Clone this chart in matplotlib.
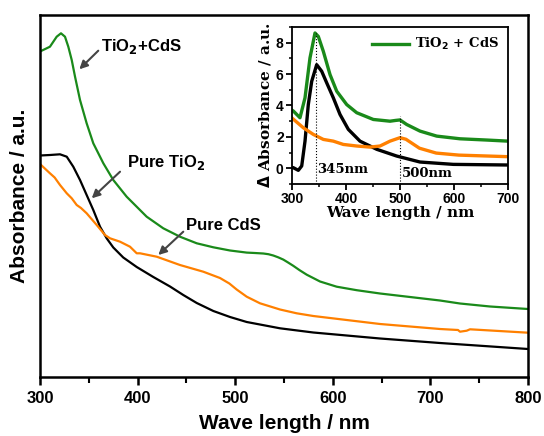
import matplotlib.pyplot as plt
from matplotlib.ticker import MultipleLocator

plt.rcParams['font.family'] = 'Liberation Sans'
plt.rcParams['font.weight'] = 'bold'

# main spectra (arbitrary absorbance units)
wl_green = [300, 310.2, 317.1, 321.5, 325.6, 329.0, 332.5, 335.9, 341.0, 347.8, 354.6, 364.9, 375.1,
            388.8, 409.3, 426.3, 443.4, 460.6, 477.6, 494.7, 511.8, 520, 528.8, 534, 539.0, 544, 549.3,
            554, 559.5, 566, 573.3, 586.9, 604.0, 624.5, 648.4, 679.1, 709.8, 730.3, 761.1, 800]
abs_green = [325.5, 330.3, 340.3, 343.7, 340.3, 330.3, 317, 300.3, 277, 253.7, 233.7, 213.7, 197,
             180.3, 160.3, 148.7, 140.3, 133.7, 129.7, 126.5, 124.4, 124, 123.5, 122.8, 121.5, 119.7, 117.4,
             114.6, 111.2, 106.8, 102.3, 95.5, 90.3, 86.8, 83.5, 80, 76.5, 73.5, 70.5, 68]

wl_black = [300, 310.2, 320.5, 327.4, 334.1, 341.0, 347.8, 354.6, 361.5, 368.3, 375.1, 385.3, 399.1,
            416.1, 433.2, 446.8, 460.6, 477.6, 494.7, 511.8, 545.9, 580.0, 614.2, 648.4, 709.8, 800]
abs_black = [221.5, 222, 222.7, 220.3, 210.3, 197, 182, 167, 150.3, 138.7, 129.5, 119.5, 110,
             100, 90.5, 82, 74, 66, 60, 55, 48.7, 44.5, 41.5, 38.5, 34, 28]

wl_orange = [300, 310.2, 315, 320.5, 327.4, 332.5, 337.6, 342, 347.8, 358.1, 366.6, 371.7, 382.0, 392.2,
             399.1, 402.5, 419.6, 443.4, 467.3, 484.4, 494, 501.5, 511.8, 525.4, 545.9, 563.0, 580.0,
             614.2, 648.4, 709.8, 728.3, 730.3, 737.2, 740.6, 800]
abs_orange = [213, 203.7, 199.5, 192, 183.7, 178.7, 172, 169, 163.7, 152, 142, 138.7, 135.3, 130.3,
              123.7, 123.7, 120.3, 112, 105.3, 99, 93.5, 87.5, 80.3, 73.7, 67.5, 63.7, 61,
              57, 53, 48, 47, 45.3, 46.3, 47.7, 44.3]

# inset: difference spectra
iwl_green = [300, 302.4, 314.8, 324.1, 333.3, 342.6, 348.7, 358.0, 370.4, 382.8, 401.3, 419.8, 450.6,
             481.5, 492, 500, 512.4, 537, 568, 611, 660.6, 700]
id_green = [3.7, 3.65, 3.22, 4.49, 7.03, 8.62, 8.40, 7.45, 5.97, 4.91, 4.06, 3.54, 3.11,
            3.0, 3.05, 3.08, 2.79, 2.37, 2.05, 1.88, 1.8, 1.73]

iwl_black = [300, 302.4, 311.7, 318, 324.1, 330.2, 336.5, 345.7, 355, 364.3, 376.5, 388.9, 404.3,
             425.9, 456.9, 493.9, 537, 598.7, 700]
id_black = [0.05, 0.04, -0.13, 0.15, 1.73, 4.06, 5.54, 6.6, 6.18, 5.44, 4.49, 3.43, 2.48,
            1.73, 1.21, 0.78, 0.40, 0.25, 0.21]

iwl_orange = [300, 321, 339.4, 358, 376.5, 395, 419.8, 444.4, 463, 481.5, 500, 511, 536, 567, 609, 700]
id_orange = [3.2, 2.58, 2.16, 1.84, 1.73, 1.52, 1.42, 1.35, 1.42, 1.73, 1.95, 1.85, 1.28, 0.97, 0.84, 0.74]

GREEN = '#1a8a1a'
ORANGE = '#ff8000'

fig = plt.figure(figsize=(5.44, 4.36), dpi=100)
ax = fig.add_axes([40 / 544, 1 - 377 / 436, 488 / 544, 362 / 436])

ax.plot(wl_green, abs_green, color=GREEN, lw=1.6)
ax.plot(wl_black, abs_black, color='black', lw=1.6)
ax.plot(wl_orange, abs_orange, color=ORANGE, lw=1.6)

ax.set_xlim(300, 800)
ax.set_ylim(0, 362)
ax.set_yticks([])
ax.xaxis.set_major_locator(MultipleLocator(100))
ax.xaxis.set_minor_locator(MultipleLocator(50))
ax.tick_params(axis='x', which='major', direction='out', length=6, width=1.8, labelsize=12, pad=4)
ax.tick_params(axis='x', which='minor', direction='out', length=4, width=1.5)
for s in ax.spines.values():
    s.set_linewidth(1.8)
ax.set_xlabel('Wave length / nm', fontsize=15, fontweight='bold', labelpad=6)
ax.set_ylabel('Absorbance / a.u.', fontsize=15, fontweight='bold', labelpad=8)

arrow = dict(arrowstyle='-|>', color='#444444', lw=1.5, mutation_scale=12, shrinkA=0, shrinkB=0)
ax.annotate('', xy=(340.3, 307.7), xytext=(359.7, 326.3), arrowprops=arrow)
ax.annotate('', xy=(353.0, 178.7), xytext=(382.0, 205.3), arrowprops=arrow)
ax.annotate('', xy=(421.2, 122), xytext=(446.8, 145.3), arrowprops=arrow)
ax.text(362.5, 330, 'TiO$_2$+CdS', fontsize=12, fontweight='bold', va='center', ha='left')
ax.text(389.1, 214, 'Pure TiO$_2$', fontsize=12, fontweight='bold', va='center', ha='left')
ax.text(449.6, 151, 'Pure CdS', fontsize=12, fontweight='bold', va='center', ha='left')

# inset
serif = 'DejaVu Serif'
ins = fig.add_axes([292 / 544, 1 - 184 / 436, 216 / 544, 157 / 436])
ins.plot(iwl_green, id_green, color=GREEN, lw=2.4, label='TiO$_2$ + CdS')
ins.plot(iwl_black, id_black, color='black', lw=2.4)
ins.plot(iwl_orange, id_orange, color=ORANGE, lw=2.4)
ins.plot([345, 345], [-1, 8.6], color='black', lw=0.8, ls=':')
ins.plot([500, 500], [-1, 3.3], color='black', lw=0.8, ls=':')
ins.text(347, -0.1, '345nm', fontsize=9.5, family=serif, fontweight='bold', va='center')
ins.text(503, -0.35, '500nm', fontsize=9.5, family=serif, fontweight='bold', va='center')
ins.set_xlim(300, 700)
ins.set_ylim(-1, 9)
ins.set_yticks([0, 2, 4, 6, 8])
ins.xaxis.set_major_locator(MultipleLocator(100))
ins.xaxis.set_minor_locator(MultipleLocator(50))
ins.yaxis.set_minor_locator(MultipleLocator(1))
ins.tick_params(which='major', direction='out', length=4, width=1.3, labelsize=10, pad=2)
ins.tick_params(which='minor', direction='out', length=2.5, width=1.1)
for s in ins.spines.values():
    s.set_linewidth(1.3)
ins.set_xlabel('Wave length / nm', fontsize=11, family=serif, fontweight='bold', labelpad=0)
ins.set_ylabel('$\\Delta$ Absorbance / a.u.', fontsize=11, family=serif, fontweight='bold', labelpad=2)
ins.legend(loc='upper right', frameon=False, prop={'family': serif, 'weight': 'bold', 'size': 9.5},
           handlelength=2.8, borderaxespad=0.3, handletextpad=0.4)

fig.savefig('out.png', dpi=100)
